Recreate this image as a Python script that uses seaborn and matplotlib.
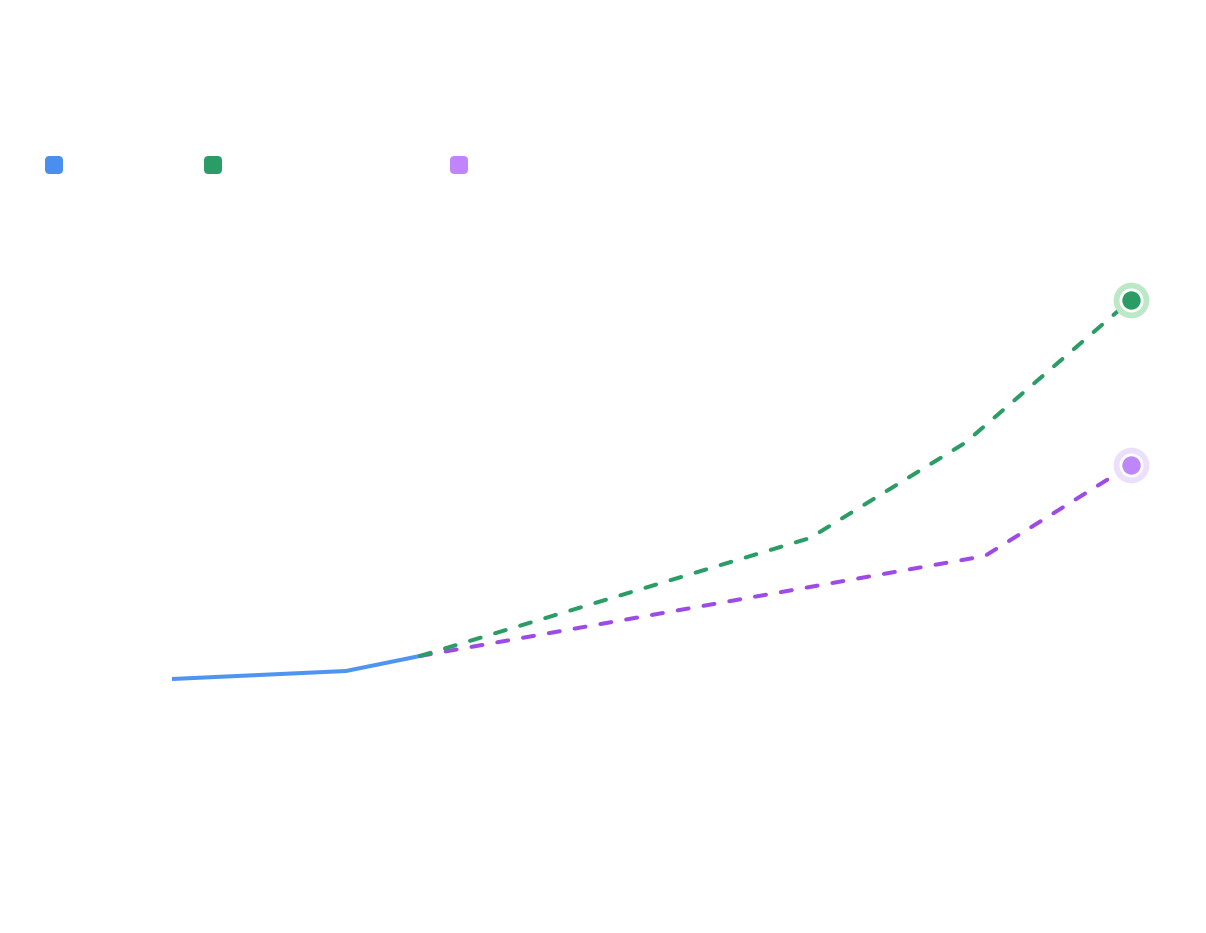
import matplotlib
matplotlib.use("Agg")
import matplotlib.pyplot as plt
from matplotlib.patches import FancyBboxPatch
import seaborn as sns

# series values (x = period index, y = value)
hist_x = [0, 10, 14.25]
hist_y = [5.25, 7.25, 11]
green_x = [14.25, 36.67, 45.57, 55.11]
green_y = [11, 40.5, 64.25, 100]
purple_x = [14.25, 46.72, 55.11]
purple_y = [11, 36, 58.75]

BLUE = "#4f94f0"
GREEN = "#2a9d66"
PURPLE_LINE = "#9d4be6"
PURPLE_DOT = "#bd86f9"
legend_colors = ["#4a8ff0", "#2a9d66", "#c084fc"]

sns.set_theme(style="white")

fig = plt.figure(figsize=(12.06, 9.33), dpi=100)
ax = fig.add_axes([0, 0, 1, 1])
ax.set_xlim(-9.885, 59.43)
ax.set_ylim(-58.25, 175)
ax.axis("off")

lw = 2.9
dash = (2.75, 3.75)

sns.lineplot(x=hist_x, y=hist_y, color=BLUE, linewidth=lw, sort=False, ax=ax,
             solid_capstyle="butt")
sns.lineplot(x=purple_x, y=purple_y, color=PURPLE_LINE, linewidth=lw, sort=False, ax=ax,
             linestyle=(0, dash), dash_capstyle="round", dash_joinstyle="round")
sns.lineplot(x=green_x, y=green_y, color=GREEN, linewidth=lw, sort=False, ax=ax,
             linestyle=(0, dash), dash_capstyle="round", dash_joinstyle="round")

# end-point markers: halo, white ring, dot
for xs, ys, dot, halo in [(green_x, green_y, GREEN, "#bde8c7"),
                          (purple_x, purple_y, PURPLE_DOT, "#ecdffc")]:
    ax.scatter(xs[-1:], ys[-1:], s=660, color=halo, linewidths=0, zorder=5)
    ax.scatter(xs[-1:], ys[-1:], s=300, color="white", linewidths=0, zorder=6)
    ax.scatter(xs[-1:], ys[-1:], s=175, color=dot, linewidths=0, zorder=7)

# legend swatches (labels are blank in the reference)
for left, c in zip([0.45, 2.04, 4.50], legend_colors):
    fig.add_artist(FancyBboxPatch((left, 7.59), 0.18, 0.18,
                                  boxstyle="round,pad=0,rounding_size=0.045",
                                  transform=fig.dpi_scale_trans,
                                  facecolor=c, edgecolor="none"))

fig.savefig("out.png", dpi=100, facecolor="white")
